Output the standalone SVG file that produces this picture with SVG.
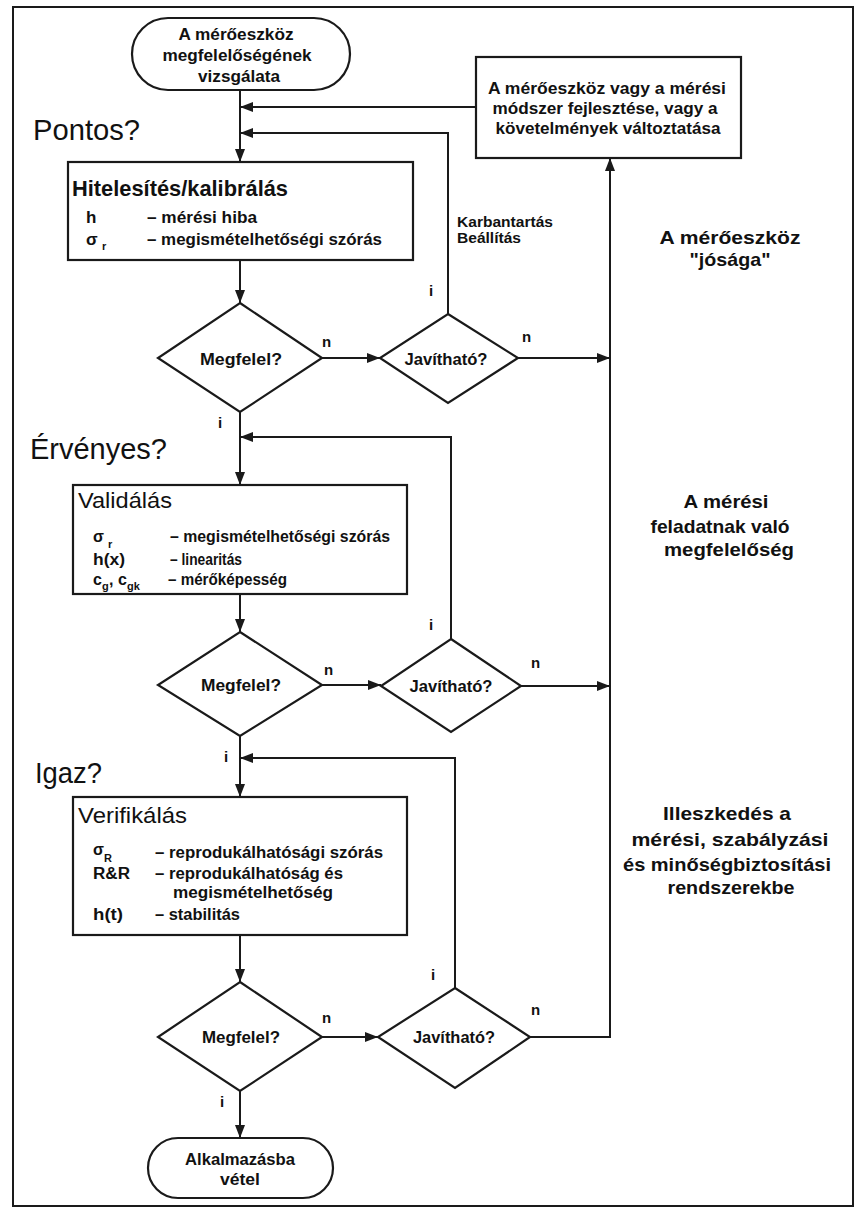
<svg xmlns="http://www.w3.org/2000/svg" width="856" height="1212" viewBox="0 0 856 1212">
<style>
.shape{fill:#fff;stroke:#1a1a1a;stroke-width:2.2}
.conn{fill:none;stroke:#1a1a1a;stroke-width:2}
.t{font-family:"Liberation Sans",Arial,sans-serif;fill:#111;font-weight:bold;font-size:17px}
.c{text-anchor:middle}
.h{font-weight:normal;font-size:30px}
.ttl{font-size:22px}
.ttr{font-weight:normal;font-size:22px}
.r{font-size:19px}
.s{font-size:16px}
.sub{font-size:11px}
.lb{font-size:15px}
</style>
<defs>
<marker id="ah" markerWidth="13" markerHeight="10" refX="13" refY="5" orient="auto" markerUnits="userSpaceOnUse"><path d="M0,0 L13,5 L0,10 z" fill="#1a1a1a"/></marker>
</defs>
<rect x="0" y="0" width="856" height="1212" fill="#fff"/>
<rect x="13" y="7" width="840" height="1199" fill="none" stroke="#1a1a1a" stroke-width="2"/>

<g id="connectors">
<path class="conn" d="M240,90 V162" marker-end="url(#ah)"/>
<path class="conn" d="M476,107 H240" marker-end="url(#ah)"/>
<path class="conn" d="M448,314 V133 H240" marker-end="url(#ah)"/>
<path class="conn" d="M240,260 V303" marker-end="url(#ah)"/>
<path class="conn" d="M322,358 H380" marker-end="url(#ah)"/>
<path class="conn" d="M518,358 H610" marker-end="url(#ah)"/>
<path class="conn" d="M240,412 V485" marker-end="url(#ah)"/>
<path class="conn" d="M451,639 V437 H240" marker-end="url(#ah)"/>
<path class="conn" d="M240,594 V632" marker-end="url(#ah)"/>
<path class="conn" d="M322,685 H381" marker-end="url(#ah)"/>
<path class="conn" d="M521,686 H610" marker-end="url(#ah)"/>
<path class="conn" d="M240,736 V797" marker-end="url(#ah)"/>
<path class="conn" d="M455,988 V758 H240" marker-end="url(#ah)"/>
<path class="conn" d="M240,935 V982" marker-end="url(#ah)"/>
<path class="conn" d="M322,1037 H378" marker-end="url(#ah)"/>
<path class="conn" d="M530,1037 H610 V158" marker-end="url(#ah)"/>
<path class="conn" d="M240,1091 V1138" marker-end="url(#ah)"/>
<text class="t lb" x="322" y="347">n</text>
<text class="t lb" x="429" y="296">i</text>
<text class="t lb" x="522" y="342">n</text>
<text class="t lb" x="218" y="428">i</text>
<text class="t lb" x="324" y="675">n</text>
<text class="t lb" x="429" y="630">i</text>
<text class="t lb" x="531" y="668">n</text>
<text class="t lb" x="224" y="762">i</text>
<text class="t lb" x="431" y="980">i</text>
<text class="t lb" x="531" y="1015">n</text>
<text class="t lb" x="322" y="1023">n</text>
<text class="t lb" x="220" y="1107">i</text>
<text class="t lb" x="457" y="227" textLength="96" lengthAdjust="spacingAndGlyphs">Karbantartás</text>
<text class="t lb" x="457" y="243" textLength="64" lengthAdjust="spacingAndGlyphs">Beállítás</text>
</g>

<g id="start">
<rect class="shape" x="132" y="18" width="218" height="72" rx="36"/>
<text class="t c" x="236" y="40" textLength="115" lengthAdjust="spacingAndGlyphs">A mérőeszköz</text>
<text class="t c" x="237" y="61" textLength="149" lengthAdjust="spacingAndGlyphs">megfelelőségének</text>
<text class="t c" x="239" y="82" textLength="82" lengthAdjust="spacingAndGlyphs">vizsgálata</text>
</g>

<g id="improve">
<rect class="shape" x="476" y="57" width="265" height="101"/>
<text class="t c" x="607" y="94" textLength="238" lengthAdjust="spacingAndGlyphs">A mérőeszköz vagy a mérési</text>
<text class="t c" x="605" y="114" textLength="225" lengthAdjust="spacingAndGlyphs">módszer fejlesztése, vagy a</text>
<text class="t c" x="608" y="134" textLength="225" lengthAdjust="spacingAndGlyphs">követelmények változtatása</text>
</g>

<g id="headings">
<text class="t h" x="33" y="140" textLength="107" lengthAdjust="spacingAndGlyphs">Pontos?</text>
<text class="t h" x="30" y="459" textLength="137" lengthAdjust="spacingAndGlyphs">Érvényes?</text>
<text class="t h" x="35" y="783" textLength="67" lengthAdjust="spacingAndGlyphs">Igaz?</text>
</g>

<g id="box-kalibralas">
<rect class="shape" x="68" y="162" width="345" height="98"/>
<text class="t ttl" x="72" y="196" textLength="216" lengthAdjust="spacingAndGlyphs">Hitelesítés/kalibrálás</text>
<text class="t" x="86" y="223">h</text>
<text class="t" x="147" y="223" textLength="110" lengthAdjust="spacingAndGlyphs">– mérési hiba</text>
<text class="t" x="86" y="245">σ</text>
<text class="t sub" x="102" y="250">r</text>
<text class="t" x="147" y="245" textLength="235" lengthAdjust="spacingAndGlyphs">– megismételhetőségi szórás</text>
</g>

<g id="dec-megfelel-1">
<polygon class="shape" points="240,303 322,358 240,412 158,358"/>
<text class="t c" x="241" y="365" textLength="82" lengthAdjust="spacingAndGlyphs">Megfelel?</text>
</g>

<g id="dec-javithato-1">
<polygon class="shape" points="448,314 518,358 448,403 380,358"/>
<text class="t c" x="446" y="365" textLength="83" lengthAdjust="spacingAndGlyphs">Javítható?</text>
</g>

<g id="box-validalas">
<rect class="shape" x="73" y="485" width="334" height="109"/>
<text class="t ttr" x="78" y="508" textLength="94" lengthAdjust="spacingAndGlyphs">Validálás</text>
<text class="t s" x="93" y="542">σ</text>
<text class="t sub" x="108" y="548">r</text>
<text class="t s" x="170" y="542" textLength="220" lengthAdjust="spacingAndGlyphs">– megismételhetőségi szórás</text>
<text class="t s" x="93" y="565" textLength="32" lengthAdjust="spacingAndGlyphs">h(x)</text>
<text class="t s" x="170" y="565" textLength="72" lengthAdjust="spacingAndGlyphs">– linearitás</text>
<text class="t s" x="93" y="585">c</text>
<text class="t sub" x="102" y="590">g</text>
<text class="t s" x="109" y="585">, c</text>
<text class="t sub" x="127" y="590">gk</text>
<text class="t s" x="168" y="585" textLength="119" lengthAdjust="spacingAndGlyphs">– mérőképesség</text>
</g>

<g id="dec-megfelel-2">
<polygon class="shape" points="240,632 322,685 240,736 158,685"/>
<text class="t c" x="241" y="691" textLength="80" lengthAdjust="spacingAndGlyphs">Megfelel?</text>
</g>

<g id="dec-javithato-2">
<polygon class="shape" points="451,639 521,686 451,732 381,686"/>
<text class="t c" x="451" y="692" textLength="83" lengthAdjust="spacingAndGlyphs">Javítható?</text>
</g>

<g id="box-verifikalas">
<rect class="shape" x="73" y="797" width="334" height="138"/>
<text class="t ttr" x="78" y="823" textLength="109" lengthAdjust="spacingAndGlyphs">Verifikálás</text>
<text class="t s" x="93" y="855">σ</text>
<text class="t sub" x="104" y="862">R</text>
<text class="t s" x="155" y="858" textLength="228" lengthAdjust="spacingAndGlyphs">– reprodukálhatósági szórás</text>
<text class="t s" x="93" y="879" textLength="37" lengthAdjust="spacingAndGlyphs">R&amp;R</text>
<text class="t s" x="155" y="879" textLength="188" lengthAdjust="spacingAndGlyphs">– reprodukálhatóság és</text>
<text class="t s" x="173" y="898" textLength="160" lengthAdjust="spacingAndGlyphs">megismételhetőség</text>
<text class="t s" x="93" y="920" textLength="30" lengthAdjust="spacingAndGlyphs">h(t)</text>
<text class="t s" x="155" y="920" textLength="85" lengthAdjust="spacingAndGlyphs">– stabilitás</text>
</g>

<g id="dec-megfelel-3">
<polygon class="shape" points="240,982 322,1037 240,1091 158,1037"/>
<text class="t c" x="241" y="1043" textLength="78" lengthAdjust="spacingAndGlyphs">Megfelel?</text>
</g>

<g id="dec-javithato-3">
<polygon class="shape" points="455,988 530,1037 455,1088 378,1037"/>
<text class="t c" x="454" y="1043" textLength="82" lengthAdjust="spacingAndGlyphs">Javítható?</text>
</g>

<g id="end">
<rect class="shape" x="148" y="1138" width="185" height="60" rx="30"/>
<text class="t c" x="240" y="1165" textLength="110" lengthAdjust="spacingAndGlyphs">Alkalmazásba</text>
<text class="t c" x="240" y="1185" textLength="40" lengthAdjust="spacingAndGlyphs">vétel</text>
</g>

<g id="side-labels">
<text class="t r c" x="730" y="244" textLength="141" lengthAdjust="spacingAndGlyphs">A mérőeszköz</text>
<text class="t r c" x="730" y="266" textLength="81" lengthAdjust="spacingAndGlyphs">"jósága"</text>
<text class="t r c" x="726" y="508" textLength="85" lengthAdjust="spacingAndGlyphs">A mérési</text>
<text class="t r c" x="720" y="533" textLength="139" lengthAdjust="spacingAndGlyphs">feladatnak való</text>
<text class="t r c" x="729" y="556" textLength="130" lengthAdjust="spacingAndGlyphs">megfelelőség</text>
<text class="t r c" x="727" y="820" textLength="128" lengthAdjust="spacingAndGlyphs">Illeszkedés a</text>
<text class="t r c" x="730" y="846" textLength="197" lengthAdjust="spacingAndGlyphs">mérési, szabályzási</text>
<text class="t r c" x="727" y="871" textLength="208" lengthAdjust="spacingAndGlyphs">és minőségbiztosítási</text>
<text class="t r c" x="731" y="894" textLength="127" lengthAdjust="spacingAndGlyphs">rendszerekbe</text>
</g>
</svg>
